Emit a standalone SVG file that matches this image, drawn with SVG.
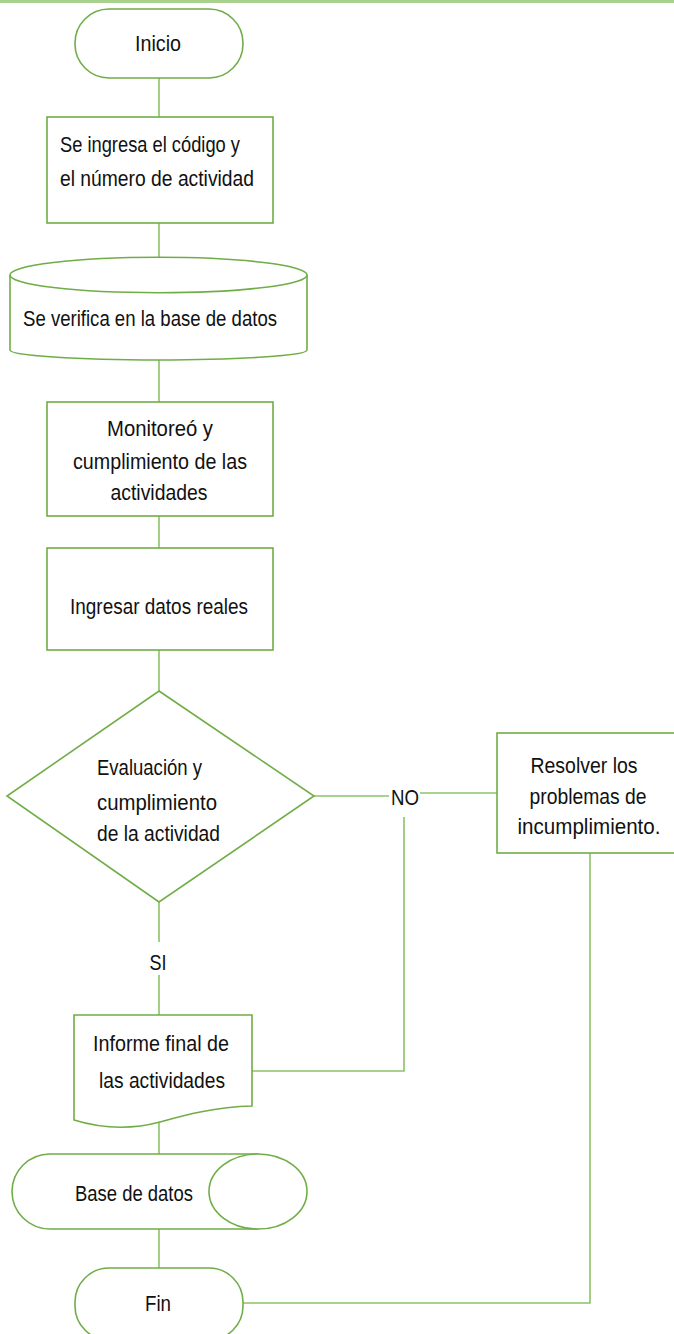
<svg xmlns="http://www.w3.org/2000/svg" width="674" height="1334" viewBox="0 0 674 1334">
<style>
.s{fill:#fff;stroke:#70ad47;stroke-width:1.6}
.c{fill:none;stroke:#8cc26a;stroke-width:1.6}
text{font-family:"Liberation Sans",Arial,sans-serif;font-size:22px;fill:#111;dominant-baseline:central}
.m{text-anchor:middle}
</style>
<rect x="0" y="0" width="674" height="3" fill="#a9d18e"/>
<g id="connectors">
<path class="c" d="M159,78V117"/>
<path class="c" d="M159,223V257"/>
<path class="c" d="M159,360V402"/>
<path class="c" d="M159,516V548"/>
<path class="c" d="M159,650V691"/>
<path class="c" d="M314,796H389"/>
<path class="c" d="M420,793H497"/>
<path class="c" d="M404,817V1071H252"/>
<path class="c" d="M159,902V942"/>
<path class="c" d="M159,975V1015"/>
<path class="c" d="M590,853V1303H243"/>
<path class="c" d="M159,1122V1154"/>
<path class="c" d="M159,1229V1268"/>
<text class="m" x="405" y="797" textLength="28" lengthAdjust="spacingAndGlyphs">NO</text>
<text class="m" x="158" y="962" textLength="17" lengthAdjust="spacingAndGlyphs">SI</text>
</g>
<g id="inicio">
<rect class="s" x="75" y="9" width="168" height="69" rx="34"/>
<text class="m" x="158" y="43" textLength="46" lengthAdjust="spacingAndGlyphs">Inicio</text>
</g>
<g id="ingreso">
<rect class="s" x="47" y="117" width="226" height="106"/>
<text x="60" y="144" textLength="180" lengthAdjust="spacingAndGlyphs">Se ingresa el código y</text>
<text x="60" y="178" textLength="194" lengthAdjust="spacingAndGlyphs">el número de actividad</text>
</g>
<g id="verifica">
<path class="s" d="M10,275A148.5,17.7 0 0 1 307,275V350A148.5,10 0 0 1 10,350Z"/>
<path class="s" d="M10,275A148.5,17.7 0 0 0 307,275" fill="none"/>
<text x="23" y="318" textLength="254" lengthAdjust="spacingAndGlyphs">Se verifica en la base de datos</text>
</g>
<g id="monitoreo">
<rect class="s" x="47" y="402" width="226" height="114"/>
<text class="m" x="160" y="428" textLength="106" lengthAdjust="spacingAndGlyphs">Monitoreó y</text>
<text class="m" x="160" y="461" textLength="174" lengthAdjust="spacingAndGlyphs">cumplimiento de las</text>
<text class="m" x="159" y="492" textLength="97" lengthAdjust="spacingAndGlyphs">actividades</text>
</g>
<g id="ingresar">
<rect class="s" x="47" y="548" width="226" height="102"/>
<text class="m" x="159" y="606" textLength="178" lengthAdjust="spacingAndGlyphs">Ingresar datos reales</text>
</g>
<g id="evaluacion">
<polygon class="s" points="159,691 314,796 159,902 7,796"/>
<text x="97" y="767" textLength="105" lengthAdjust="spacingAndGlyphs">Evaluación y</text>
<text x="97" y="802" textLength="120" lengthAdjust="spacingAndGlyphs">cumplimiento</text>
<text x="97" y="833" textLength="123" lengthAdjust="spacingAndGlyphs">de la actividad</text>
</g>
<g id="resolver">
<rect class="s" x="497" y="733" width="180" height="120"/>
<text class="m" x="584" y="765" textLength="107" lengthAdjust="spacingAndGlyphs">Resolver los</text>
<text class="m" x="588" y="796" textLength="117" lengthAdjust="spacingAndGlyphs">problemas de</text>
<text class="m" x="589" y="826" textLength="143" lengthAdjust="spacingAndGlyphs">incumplimiento.</text>
</g>
<g id="informe">
<path class="s" d="M74,1015H252V1106C215,1107 185,1115 160,1122C130,1130 100,1128 74,1120Z"/>
<text class="m" x="161" y="1043" textLength="136" lengthAdjust="spacingAndGlyphs">Informe final de</text>
<text class="m" x="162" y="1080" textLength="126" lengthAdjust="spacingAndGlyphs">las actividades</text>
</g>
<g id="basedatos">
<path class="s" d="M258,1154H50A38,37.5 0 0 0 50,1229H258Z"/>
<ellipse class="s" cx="258" cy="1191.5" rx="49" ry="37.5"/>
<text class="m" x="134" y="1193" textLength="118" lengthAdjust="spacingAndGlyphs">Base de datos</text>
</g>
<g id="fin">
<rect class="s" x="75" y="1268" width="168" height="72" rx="34"/>
<text class="m" x="158" y="1303" textLength="26" lengthAdjust="spacingAndGlyphs">Fin</text>
</g>
</svg>
